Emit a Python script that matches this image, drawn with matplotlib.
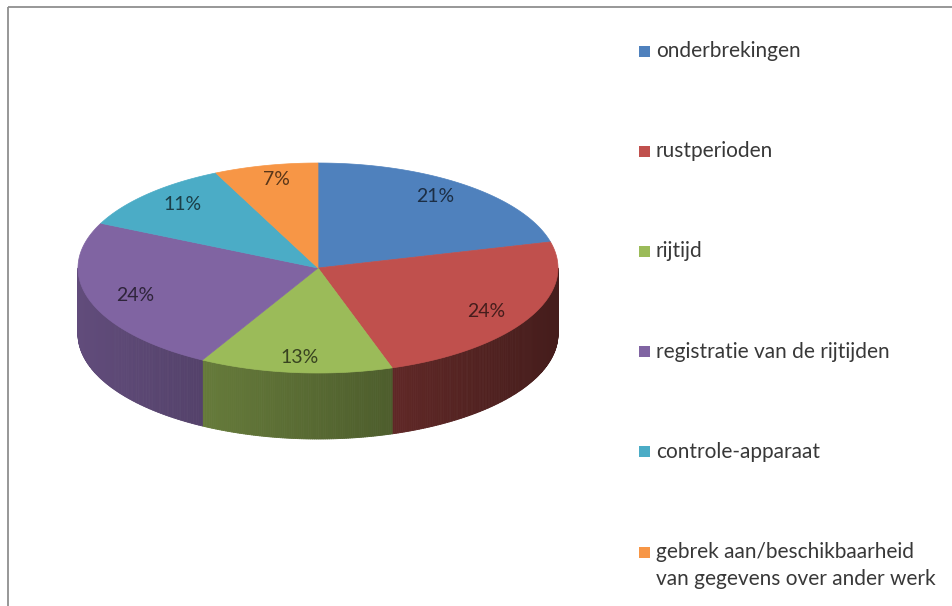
import numpy as np
import matplotlib
matplotlib.use("Agg")
import matplotlib.pyplot as plt
from matplotlib.collections import PolyCollection
from matplotlib.patches import Polygon, Rectangle
from matplotlib.colors import to_rgb

# === Data ===
categories = [
    "onderbrekingen",
    "rustperioden",
    "rijtijd",
    "registratie van de rijtijden",
    "controle-apparaat",
    "gebrek aan/beschikbaarheid\nvan gegevens over ander werk",
]
shares = [21, 24, 13, 24, 11, 7]
labels = ["21%", "24%", "13%", "24%", "11%", "7%"]
colors = ["#4f81bd", "#c0504d", "#9bbb59", "#8064a2", "#4bacc6", "#f79646"]

plt.rcParams["font.family"] = ["Lato", "DejaVu Sans"]

# === Layout (pixel coords of the 953x606 canvas) ===
W, H = 953, 606
CX, CY = 318, 268      # pie centre
RX, RY = 240, 105      # top ellipse radii
DEPTH = 66             # height of the pie side
LABEL_RX, LABEL_RY = 0.8, 0.86


def pt(theta_deg, rx=1.0, ry=None, dy=0.0):
    ry = rx if ry is None else ry
    t = np.radians(theta_deg)
    return CX + rx * RX * np.cos(t), CY - ry * RY * np.sin(t) + dy


def shade(rgb, factor):
    return tuple(min(1.0, c * factor) for c in rgb)


fig = plt.figure(figsize=(W / 100, H / 100), dpi=100)
ax = fig.add_axes([0, 0, 1, 1])
ax.set_xlim(0, W)
ax.set_ylim(H, 0)
ax.axis("off")

# chart frame (only top and left edges visible in the crop)
ax.plot([8, 8], [H + 5, 6.5], color="#8f8f8f", lw=1.3, solid_capstyle="butt")
ax.plot([8, W + 5], [6.5, 6.5], color="#8f8f8f", lw=1.3, solid_capstyle="butt")

# wedge angles: start at 12 o'clock, go clockwise
total = float(sum(shares))
bounds = 90 - 360 * np.concatenate([[0], np.cumsum(shares)]) / total

# --- side walls (front half only) ---
for i, col in enumerate(colors):
    a_start, a_end = bounds[i], bounds[i + 1]
    lo, hi = max(a_end, -180), min(a_start, 0)
    if lo >= hi:
        continue
    steps = np.linspace(hi, lo, max(int((hi - lo) * 2), 2))
    polys, fcs = [], []
    base = to_rgb(col)
    for t0, t1 in zip(steps[:-1], steps[1:]):
        p0, p1 = pt(t0), pt(t1)
        q0, q1 = pt(t0, dy=DEPTH), pt(t1, dy=DEPTH)
        polys.append([p0, p1, q1, q0])
        tm = np.radians((t0 + t1) / 2)
        fcs.append(shade(base, 0.56 - 0.2 * np.cos(tm)))
    ax.add_collection(PolyCollection(polys, facecolors=fcs, edgecolors=fcs,
                                     linewidths=0.6, zorder=2))

# --- top face ---
for i, col in enumerate(colors):
    a_start, a_end = bounds[i], bounds[i + 1]
    arc = np.linspace(a_start, a_end, 120)
    verts = [(CX, CY)] + [pt(a) for a in arc]
    ax.add_patch(Polygon(verts, closed=True, facecolor=col, edgecolor=col,
                         lw=0.5, zorder=3))

# --- percentage labels ---
for i, (lab, col) in enumerate(zip(labels, colors)):
    mid = (bounds[i] + bounds[i + 1]) / 2
    x, y = pt(mid, rx=LABEL_RX, ry=LABEL_RY)
    ax.text(x, y, lab, ha="center", va="center", fontsize=14,
            color=shade(to_rgb(col), 0.36), zorder=4)

# --- legend ---
LEG_X, LEG_Y0, LEG_DY, LINE_DY = 639, 51, 100.2, 27
for i, (cat, col) in enumerate(zip(categories, colors)):
    y = LEG_Y0 + i * LEG_DY
    ax.add_patch(Rectangle((LEG_X, y - 5.5), 11, 11, facecolor=col,
                           edgecolor="none", zorder=4))
    for j, line in enumerate(cat.split("\n")):
        ax.text(LEG_X + 17, y + j * LINE_DY, line, ha="left", va="center",
                fontsize=15, color="#383838", zorder=4)

fig.savefig("out.png", dpi=100, facecolor="white")
